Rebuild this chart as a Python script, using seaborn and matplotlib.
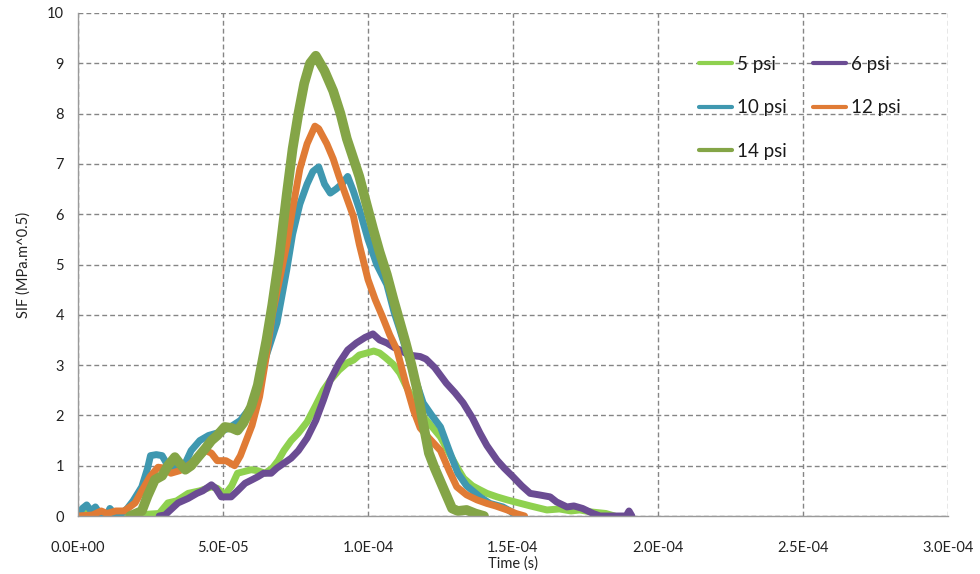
import numpy as np
import pandas as pd
import matplotlib
matplotlib.use("Agg")
import matplotlib.pyplot as plt
import seaborn as sns
from matplotlib.ticker import FuncFormatter, MultipleLocator

# SIF vs time for each pressure (time in microseconds)
t_5psi = [0, 2, 4, 10, 20, 28, 31, 34, 38, 42, 46, 48, 50.6, 53, 55, 59.7, 62, 64.5, 67, 69,
          71, 73.5, 76, 79, 82, 84.6, 87, 90, 93, 95, 97, 99.6, 102, 104, 106, 108.6, 111,
          113, 115.7, 118, 121, 125, 128, 130.7, 133, 136, 138.6, 141, 144.5, 148, 152, 156,
          161.7, 166, 170, 173, 177, 182, 185]
sif_5psi = [0.05, 0.1, 0.02, 0.0, 0.02, 0.05, 0.26, 0.3, 0.45, 0.5, 0.58, 0.55, 0.42, 0.6, 0.85,
            0.92, 0.9, 0.85, 0.95, 1.1, 1.3, 1.5, 1.65, 1.87, 2.2, 2.5, 2.7, 2.9, 3.05, 3.1, 3.2,
            3.24, 3.28, 3.24, 3.15, 3.02, 2.84, 2.6, 2.3, 2.05, 1.85, 1.57, 1.25, 0.97, 0.75,
            0.6, 0.52, 0.45, 0.38, 0.32, 0.26, 0.2, 0.12, 0.14, 0.1, 0.12, 0.08, 0.05, 0.0]

t_6psi = [28, 30, 34.5, 38, 41, 43, 46, 47.5, 49.4, 52.8, 55, 57.6, 60, 62, 64, 66.6, 68.5, 71,
          73.5, 76, 79, 82, 84.6, 87, 90, 93, 96, 99, 101.7, 104, 106.5, 109, 111, 114, 118,
          120, 123, 127, 130, 132.8, 136, 138.6, 141, 144.5, 147, 150, 153, 155.9, 159, 162.8,
          165, 168.6, 171, 174, 177.6, 180, 189, 190, 191]
sif_6psi = [0.0, 0.02, 0.26, 0.35, 0.45, 0.5, 0.62, 0.55, 0.38, 0.38, 0.5, 0.65, 0.72, 0.78,
            0.85, 0.85, 0.95, 1.05, 1.15, 1.3, 1.55, 1.9, 2.3, 2.7, 3.04, 3.3, 3.44, 3.55, 3.62,
            3.5, 3.44, 3.35, 3.3, 3.2, 3.17, 3.12, 2.95, 2.64, 2.45, 2.25, 1.95, 1.65, 1.4,
            1.11, 0.95, 0.78, 0.6, 0.45, 0.42, 0.38, 0.28, 0.18, 0.2, 0.15, 0.05, 0.0, 0.0,
            0.1, 0.0]

t_10psi = [0, 1.5, 3, 4.5, 6, 8, 10, 11, 12.5, 15, 17, 19, 22, 24, 25, 27, 29, 31, 34, 37, 39,
           42, 45, 48, 52, 56, 60, 62, 65, 68.6, 72, 74, 76.5, 79, 81, 83, 85, 87, 89, 91, 93,
           95, 97, 100, 103, 106.5, 109, 111, 114.5, 117, 119, 122, 125, 128, 131, 134, 138.6,
           142, 146.5, 149, 151]
sif_10psi = [0.0, 0.15, 0.22, 0.1, 0.18, 0.0, 0.02, 0.15, 0.05, 0.05, 0.15, 0.3, 0.58, 0.95,
             1.2, 1.22, 1.2, 1.0, 0.95, 1.05, 1.3, 1.5, 1.6, 1.65, 1.75, 1.9, 2.2, 2.6, 3.2,
             3.84, 4.9, 5.6, 6.2, 6.6, 6.85, 6.94, 6.6, 6.42, 6.5, 6.6, 6.75, 6.45, 6.1, 5.5,
             5.0, 4.6, 4.05, 3.7, 3.04, 2.6, 2.25, 2.0, 1.77, 1.3, 0.85, 0.6, 0.38, 0.25, 0.18,
             0.1, 0.0]

t_12psi = [0, 5, 8, 10, 13, 16, 19.7, 22, 24.8, 27.6, 30, 32, 35, 38, 41, 44, 46, 48, 51, 54,
           56, 58, 60, 62.6, 65, 67, 69.5, 72, 74, 76.5, 79, 81.7, 83, 85.8, 88, 90, 92.5, 95,
           97, 100, 102.5, 105, 107.5, 110, 113, 115.7, 118, 121, 125, 128, 130.6, 134, 137.6,
           141, 144, 148, 151, 154]
sif_12psi = [0.0, 0.02, 0.1, 0.05, 0.1, 0.1, 0.26, 0.5, 0.78, 0.97, 0.95, 0.85, 0.9, 1.0, 1.15,
             1.3, 1.25, 1.1, 1.1, 1.0, 1.2, 1.5, 1.8, 2.37, 3.2, 4.0, 4.7, 5.4, 6.1, 6.9, 7.4,
             7.75, 7.7, 7.4, 7.1, 6.75, 6.35, 5.95, 5.4, 4.7, 4.3, 3.96, 3.6, 3.3, 2.64, 2.1,
             1.75, 1.55, 1.3, 0.9, 0.58, 0.42, 0.32, 0.25, 0.2, 0.12, 0.05, 0.0]

t_14psi = [18, 22, 24, 26.5, 29, 31, 33.4, 35, 37, 39, 41.4, 44, 46, 48, 50.6, 53, 55, 57, 59.7,
           62, 65, 67, 69.5, 72, 74, 76, 78, 80, 82, 83, 85, 88, 90.5, 92.7, 95, 97, 99.5,
           101.8, 104, 106.5, 108.8, 111, 113, 115, 117, 119, 121, 123, 126, 129, 131, 134,
           137, 140]
sif_14psi = [0.0, 0.1, 0.4, 0.72, 0.8, 1.0, 1.17, 1.05, 0.92, 1.0, 1.17, 1.35, 1.5, 1.6, 1.77,
             1.75, 1.7, 1.85, 2.17, 2.6, 3.5, 4.2, 5.2, 6.4, 7.3, 8.0, 8.6, 9.0, 9.15, 9.05,
             8.85, 8.45, 8.0, 7.5, 7.1, 6.75, 6.2, 5.7, 5.25, 4.8, 4.3, 3.85, 3.44, 3.0, 2.5,
             1.85, 1.25, 0.95, 0.55, 0.15, 0.1, 0.12, 0.05, 0.0]

labels = ["5 psi", "6 psi", "10 psi", "12 psi", "14 psi"]
colors = ["#8fd14f", "#6b4c93", "#3f98b0", "#e07b35", "#84a547"]
widths = [5.0, 5.0, 5.0, 5.0, 7.0]

series = [(t_5psi, sif_5psi), (t_6psi, sif_6psi), (t_10psi, sif_10psi),
          (t_12psi, sif_12psi), (t_14psi, sif_14psi)]

sns.set_style("white")
plt.rcParams['font.family'] = ['Lato', 'DejaVu Sans']

fig = plt.figure(figsize=(9.8, 5.74), dpi=100)
ax = fig.add_axes([78 / 980, 58 / 574, 870 / 980, 503 / 574])

lines = {}
for lab, col, lw, (t, v) in zip(labels, colors, widths, series):
    df = pd.DataFrame({"time": np.array(t) * 1e-6, "sif": v})
    sns.lineplot(data=df, x="time", y="sif", color=col, lw=lw, ax=ax,
                 estimator=None, sort=False, label=lab)
    lines[lab] = ax.get_lines()[-1]

ax.set_xlim(0, 3.0e-4)
ax.set_ylim(0, 10)
ax.xaxis.set_major_locator(MultipleLocator(5e-5))
ax.yaxis.set_major_locator(MultipleLocator(1))
ax.xaxis.set_major_formatter(FuncFormatter(lambda x, p: f"{x:.1E}"))
ax.yaxis.set_major_formatter(FuncFormatter(lambda y, p: f"{y:.0f}"))

ax.grid(True, color="#858585", linestyle=(0, (3.5, 2.2)), lw=1.0)
ax.set_axisbelow(True)
for s in ["top", "right"]:
    ax.spines[s].set_visible(False)
for s in ["left", "bottom"]:
    ax.spines[s].set_color("#9a9a9a")
    ax.spines[s].set_linewidth(1.0)

ax.tick_params(axis="x", length=5, width=1, color="#9a9a9a", pad=13,
               labelsize=10.5, labelcolor="#222222", direction="out")
ax.tick_params(axis="y", length=0, pad=10, labelsize=10.5, labelcolor="#222222")

ax.set_xlabel("Time (s)", fontsize=10.5, color="#222222", labelpad=1)
ax.set_ylabel("SIF (MPa.m^0.5)", fontsize=10.5, color="#222222", labelpad=12)

order = ["5 psi", "10 psi", "14 psi", "6 psi", "12 psi"]
leg = ax.legend([lines[k] for k in order], order, ncol=2, frameon=False,
                loc="upper left", bbox_to_anchor=(699 / 980, 1 - 56 / 574),
                bbox_transform=fig.transFigure, borderaxespad=0, borderpad=0,
                fontsize=13.5, handlelength=1.75, handletextpad=0.25,
                columnspacing=1.45, labelspacing=1.4)
for h in leg.legend_handles:
    h.set_linewidth(3)
for txt in leg.get_texts():
    txt.set_color("#1a1a1a")

fig.savefig("out.png", dpi=100)
